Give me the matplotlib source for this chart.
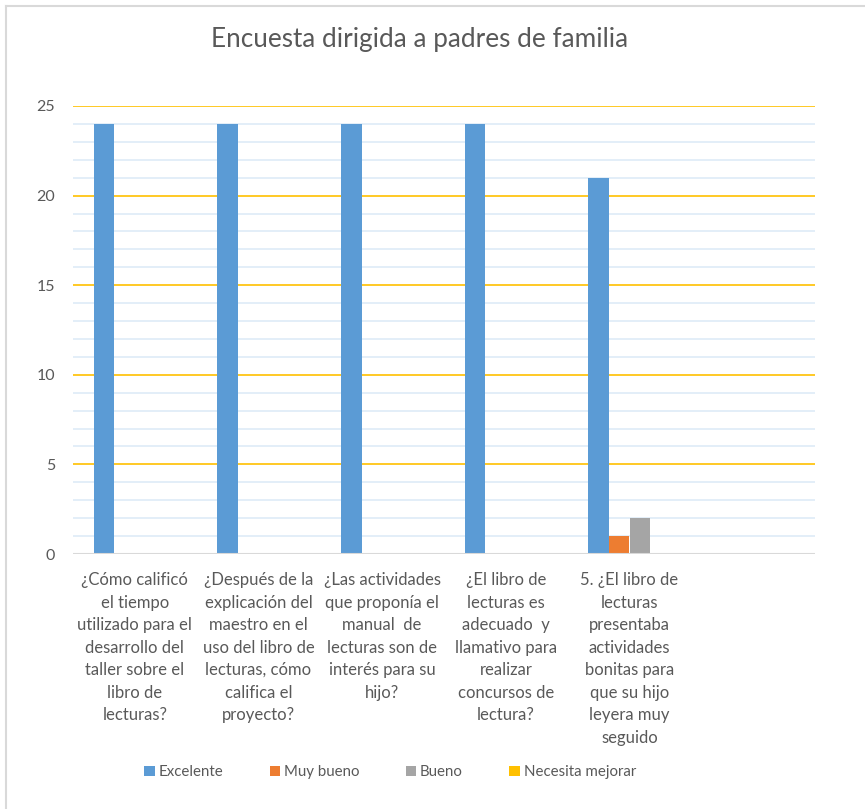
import numpy as np
import matplotlib
matplotlib.use('Agg')
import matplotlib.pyplot as plt
from matplotlib.lines import Line2D
from matplotlib.patches import Patch

plt.rcParams['font.family'] = ['Lato', 'DejaVu Sans']

# survey questions (the sixth slot is left blank on the axis)
categories = [
    "¿Cómo calificó\nel tiempo\nutilizado para el\ndesarrollo del\ntaller sobre el\nlibro de\nlecturas?",
    "¿Después de la\nexplicación del\nmaestro en el\nuso del libro de\nlecturas, cómo\ncalifica el\nproyecto?",
    "¿Las actividades\nque proponía el\nmanual  de\nlecturas son de\ninterés para su\nhijo?",
    "¿El libro de\nlecturas es\nadecuado  y\nllamativo para\nrealizar\nconcursos de\nlectura?",
    "5. ¿El libro de\nlecturas\npresentaba\nactividades\nbonitas para\nque su hijo\nleyera muy\nseguido",
    "",
]
series_names = ["Excelente", "Muy bueno", "Bueno", "Necesita mejorar"]
excelente = [24, 24, 24, 24, 21, np.nan]
muy_bueno = [0, 0, 0, 0, 1, np.nan]
bueno = [0, 0, 0, 0, 2, np.nan]
necesita_mejorar = [0, 0, 0, 0, 0, np.nan]
y_ticks = [0, 5, 10, 15, 20, 25]

colors = ["#5B9BD5", "#ED7D31", "#A5A5A5", "#FFC000"]
text_color = "#595959"

fig = plt.figure(figsize=(8.65, 8.09), dpi=100)
ax = fig.add_axes([73 / 865, 1 - 554 / 809, 742 / 865, 448 / 809])

x = np.arange(len(categories))
w = 0.167
all_series = [excelente, muy_bueno, bueno, necesita_mejorar]
for i, (vals, name, c) in enumerate(zip(all_series, series_names, colors)):
    ax.bar(x + (i - 1.5) * w, vals, width=w, color=c, linewidth=0, label=name, zorder=3)

ax.set_xlim(-0.5, len(categories) - 0.5)
ax.set_ylim(0, 25)

# light minor grid every unit, gold major grid every five
for v in range(1, 25):
    if v % 5:
        ax.axhline(v, color="#DEEBF7", lw=1.2, zorder=1)
for v in y_ticks[1:]:
    ax.axhline(v, color="#FFC000", lw=1.2, zorder=2)
ax.axhline(0, color="#D9D9D9", lw=1.5, zorder=4)

for s in ax.spines.values():
    s.set_visible(False)

ax.set_yticks(y_ticks)
ax.set_yticklabels([str(t) for t in y_ticks])
ax.set_xticks(x)
ax.set_xticklabels(categories, linespacing=1.5)
ax.tick_params(axis="y", length=0, pad=13, labelsize=11.5, labelcolor=text_color)
ax.tick_params(axis="x", length=0, pad=13, labelsize=12, labelcolor=text_color)

fig.text(419.5 / 865, 1 - 40 / 809, "Encuesta dirigida a padres de familia",
         ha="center", va="center", fontsize=18.8, color=text_color)

handles = [Patch(facecolor=c, edgecolor="none") for c in colors]
fig.legend(handles, series_names, loc="center", bbox_to_anchor=(390 / 865, 1 - 772 / 809),
           ncol=4, frameon=False, fontsize=10.8, labelcolor=text_color,
           handlelength=0.7, handleheight=0.7, handletextpad=0.25, columnspacing=3.1)

# chart frame (top and left edges only)
fig.add_artist(Line2D([5.5 / 865, 5.5 / 865], [0, 1 - 5.5 / 809], color="#D9D9D9", lw=1.5,
                      transform=fig.transFigure))
fig.add_artist(Line2D([5.5 / 865, 1], [1 - 5.5 / 809, 1 - 5.5 / 809], color="#D9D9D9", lw=1.5,
                      transform=fig.transFigure))

fig.savefig("out.png", dpi=100, facecolor="white")
